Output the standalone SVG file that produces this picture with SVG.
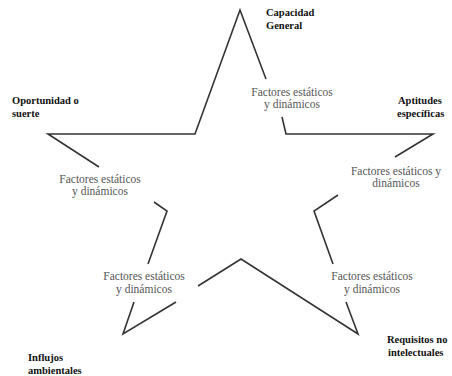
<svg xmlns="http://www.w3.org/2000/svg" width="452" height="376" viewBox="0 0 452 376">
<style>
.ln{fill:none;stroke:#333;stroke-width:1.6;stroke-linejoin:miter}
text{font-family:'Liberation Serif','Times New Roman',Times,serif}
.lb{font-weight:bold;font-size:10.5px;fill:#111}
.ft{font-size:11.5px;fill:#555;text-anchor:middle}
</style>
<rect width="452" height="376" fill="#fff"/>
<g id="connectors">
<polyline class="ln" points="266,79 240,10 195,134 48,134 99,167"/>
<polyline class="ln" points="282,117 286,134 433,134 395,157"/>
<polyline class="ln" points="154,202 167,211 148,264"/>
<polyline class="ln" points="134,302 123,334 176,302"/>
<polyline class="ln" points="198,286 241,259 358,334 346,302"/>
<polyline class="ln" points="333,264 314,211 338,195"/>
</g>
<g id="capacidad"><text class="lb" x="266" y="16">Capacidad</text><text class="lb" x="266" y="29">General</text></g>
<g id="oportunidad"><text class="lb" x="12" y="104">Oportunidad o</text><text class="lb" x="12" y="117">suerte</text></g>
<g id="aptitudes"><text class="lb" x="398" y="104">Aptitudes</text><text class="lb" x="397" y="117">específicas</text></g>
<g id="influjos"><text class="lb" x="28" y="361">Influjos</text><text class="lb" x="28" y="374">ambientales</text></g>
<g id="requisitos"><text class="lb" x="387" y="343">Requisitos no</text><text class="lb" x="388" y="356">intelectuales</text></g>
<g id="f1"><text class="ft" x="292" y="96">Factores estáticos</text><text class="ft" x="292" y="108">y dinámicos</text></g>
<g id="f2"><text class="ft" x="396" y="175">Factores estáticos y</text><text class="ft" x="396" y="187">dinámicos</text></g>
<g id="f3"><text class="ft" x="100" y="183">Factores estáticos</text><text class="ft" x="100" y="195">y dinámicos</text></g>
<g id="f4"><text class="ft" x="144" y="280">Factores estáticos</text><text class="ft" x="144" y="293">y dinámicos</text></g>
<g id="f5"><text class="ft" x="372" y="280">Factores estáticos</text><text class="ft" x="372" y="293">y dinámicos</text></g>
</svg>
